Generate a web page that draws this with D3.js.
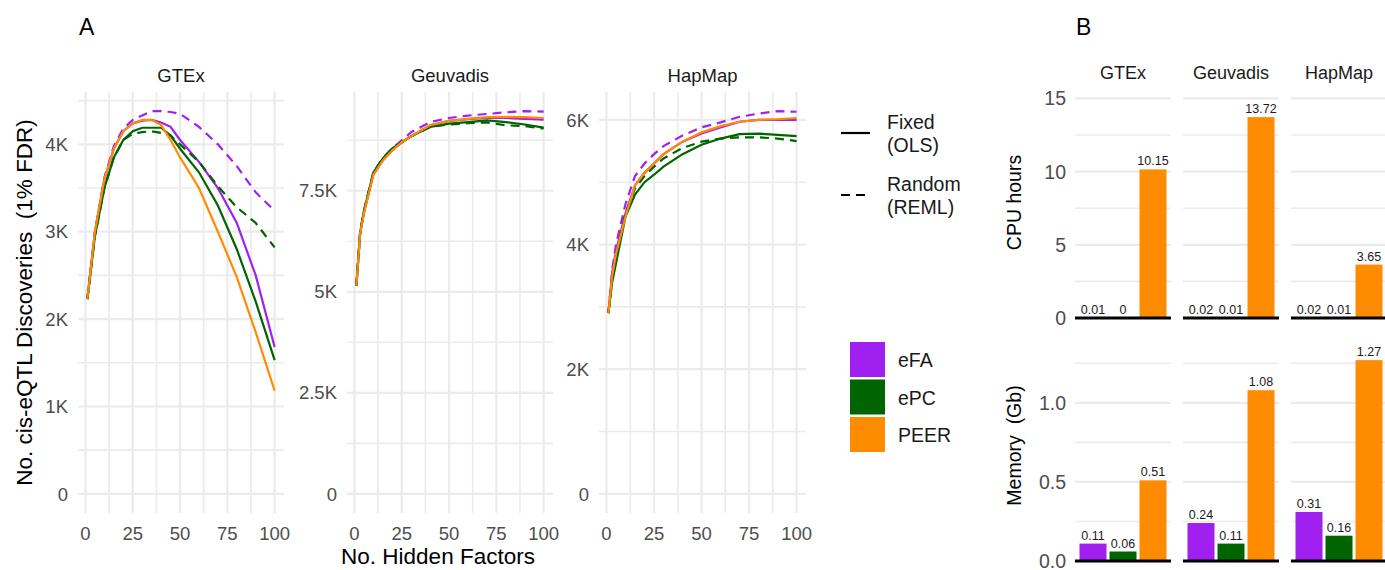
<!DOCTYPE html>
<html>
<head>
<meta charset="utf-8">
<script src="https://cdn.jsdelivr.net/npm/d3@7"></script>
<style>
  body { margin: 0; background: #fff; }
  svg { display: block; font-family: "Liberation Sans", Arial, sans-serif; }
</style>
</head>
<body>
<div id="chart"></div>
<script>
// Panel A data: cis-eQTL discoveries (thousands) vs number of hidden factors
const gtexFactors = [1, 5, 10, 15, 20, 25, 30, 35, 40, 45, 50, 60, 70, 80, 90, 100];
const gtexEfaFixed   = [2.23, 3.0, 3.6, 3.95, 4.15, 4.24, 4.27, 4.28, 4.25, 4.2, 4.05, 3.8, 3.5, 3.1, 2.5, 1.68];
const gtexEfaRandom  = [2.23, 3.0, 3.62, 3.98, 4.18, 4.28, 4.33, 4.38, 4.38, 4.37, 4.35, 4.2, 4.0, 3.75, 3.45, 3.24];
const gtexEpcFixed   = [2.23, 2.95, 3.5, 3.85, 4.05, 4.15, 4.19, 4.19, 4.19, 4.1, 3.95, 3.68, 3.3, 2.8, 2.2, 1.53];
const gtexEpcRandom  = [2.23, 2.95, 3.5, 3.85, 4.05, 4.12, 4.14, 4.15, 4.13, 4.1, 4.0, 3.8, 3.52, 3.28, 3.1, 2.82];
const gtexPeerFixed  = [2.23, 3.0, 3.6, 3.95, 4.15, 4.24, 4.28, 4.28, 4.22, 4.05, 3.85, 3.5, 3.0, 2.48, 1.85, 1.18];

const geuvFactors = [1, 3, 5, 10, 15, 20, 25, 30, 40, 50, 60, 70, 80, 90, 100];
const geuvEfaFixed   = [5.15, 6.45, 6.95, 7.9, 8.25, 8.5, 8.7, 8.85, 9.12, 9.23, 9.27, 9.3, 9.3, 9.28, 9.26];
const geuvEfaRandom  = [5.15, 6.5, 7.0, 7.95, 8.3, 8.55, 8.75, 8.95, 9.2, 9.3, 9.36, 9.4, 9.44, 9.47, 9.46];
const geuvEpcFixed   = [5.15, 6.45, 7.0, 7.95, 8.3, 8.55, 8.7, 8.85, 9.08, 9.16, 9.2, 9.24, 9.2, 9.14, 9.06];
const geuvEpcRandom  = [5.15, 6.45, 7.0, 7.95, 8.3, 8.55, 8.7, 8.85, 9.08, 9.14, 9.17, 9.19, 9.12, 9.1, 9.04];
const geuvPeerFixed  = [5.15, 6.45, 6.95, 7.9, 8.25, 8.5, 8.7, 8.85, 9.12, 9.23, 9.28, 9.32, 9.33, 9.32, 9.3];

const hapFactors = [1, 3, 5, 10, 15, 20, 25, 30, 40, 50, 60, 70, 80, 90, 100];
const hapEfaFixed    = [2.9, 3.55, 3.9, 4.5, 4.95, 5.15, 5.3, 5.45, 5.65, 5.78, 5.88, 5.97, 6.0, 6.0, 6.0];
const hapEfaRandom   = [2.9, 3.6, 4.0, 4.65, 5.1, 5.3, 5.45, 5.58, 5.75, 5.88, 5.96, 6.05, 6.1, 6.14, 6.13];
const hapEpcFixed    = [2.9, 3.4, 3.7, 4.45, 4.8, 5.0, 5.12, 5.25, 5.45, 5.6, 5.7, 5.77, 5.78, 5.76, 5.74];
const hapEpcRandom   = [2.9, 3.45, 3.8, 4.5, 4.9, 5.1, 5.25, 5.38, 5.55, 5.65, 5.7, 5.72, 5.72, 5.7, 5.66];
const hapPeerFixed   = [2.9, 3.5, 3.85, 4.45, 4.95, 5.15, 5.3, 5.45, 5.65, 5.8, 5.9, 5.97, 6.0, 6.01, 6.03];

const xTicks = [0, 25, 50, 75, 100];
const gtexYTicks = [0, 1, 2, 3, 4];
const geuvYTicks = [0, 2.5, 5, 7.5];
const hapYTicks = [0, 2, 4, 6];

// Panel B data
const methods = ["eFA", "ePC", "PEER"];
const datasets = ["GTEx", "Geuvadis", "HapMap"];
const cpuGtex = [0.01, 0, 10.15];
const cpuGeuvadis = [0.02, 0.01, 13.72];
const cpuHapmap = [0.02, 0.01, 3.65];
const memGtex = [0.11, 0.06, 0.51];
const memGeuvadis = [0.24, 0.11, 1.08];
const memHapmap = [0.31, 0.16, 1.27];
const cpuTicks = [0, 5, 10, 15];
const memTicks = [0, 0.5, 1.0];

const color = d3.scaleOrdinal().domain(methods).range(["#A020F0", "#006400", "#FF8C00"]);

const width = 1385, height = 570;
const svg = d3.create("svg").attr("width", width).attr("height", height);
const grid = "#ebebeb";

// ---------- Panel A ----------
const panelsA = [
  { name: "GTEx", x0: 78, x1: 284, factors: gtexFactors, ticks: gtexYTicks,
    series: [["eFA", "fixed", gtexEfaFixed], ["eFA", "random", gtexEfaRandom],
             ["ePC", "fixed", gtexEpcFixed], ["ePC", "random", gtexEpcRandom],
             ["PEER", "fixed", gtexPeerFixed]] },
  { name: "Geuvadis", x0: 347, x1: 553, factors: geuvFactors, ticks: geuvYTicks,
    series: [["eFA", "fixed", geuvEfaFixed], ["eFA", "random", geuvEfaRandom],
             ["ePC", "fixed", geuvEpcFixed], ["ePC", "random", geuvEpcRandom],
             ["PEER", "fixed", geuvPeerFixed]] },
  { name: "HapMap", x0: 599, x1: 806, factors: hapFactors, ticks: hapYTicks,
    series: [["eFA", "fixed", hapEfaFixed], ["eFA", "random", hapEfaRandom],
             ["ePC", "fixed", hapEpcFixed], ["ePC", "random", hapEpcRandom],
             ["PEER", "fixed", hapPeerFixed]] }
];
const aTop = 92, aBottom = 513;

panelsA.forEach(p => {
  const g = svg.append("g");
  const xr = d3.extent(p.factors);
  const xpad = (xr[1] - xr[0]) * 0.05;
  const x = d3.scaleLinear().domain([xr[0] - xpad, xr[1] + xpad]).range([p.x0, p.x1]);
  const ymax = d3.max(p.series, s => d3.max(s[2]));
  const y = d3.scaleLinear().domain([-ymax * 0.05, ymax * 1.05]).range([aBottom, aTop]);

  // grid: minor then major
  const step = p.ticks[1] - p.ticks[0];
  const yMinor = d3.range(step / 2, y.domain()[1], step);
  const xMinor = xTicks.slice(1).map(t => t - 12.5);
  g.selectAll(".ymin").data(yMinor).join("line")
    .attr("x1", p.x0).attr("x2", p.x1).attr("y1", d => y(d)).attr("y2", d => y(d))
    .attr("stroke", grid).attr("stroke-width", 1.6);
  g.selectAll(".xmin").data(xMinor).join("line")
    .attr("y1", aTop).attr("y2", aBottom).attr("x1", d => x(d)).attr("x2", d => x(d))
    .attr("stroke", grid).attr("stroke-width", 1.6);
  g.selectAll(".ymaj").data(p.ticks).join("line")
    .attr("x1", p.x0).attr("x2", p.x1).attr("y1", d => y(d)).attr("y2", d => y(d))
    .attr("stroke", grid).attr("stroke-width", 2.2);
  g.selectAll(".xmaj").data(xTicks).join("line")
    .attr("y1", aTop).attr("y2", aBottom).attr("x1", d => x(d)).attr("x2", d => x(d))
    .attr("stroke", grid).attr("stroke-width", 2.2);

  // tick labels
  g.selectAll(".ylab").data(p.ticks).join("text")
    .attr("x", p.x0 - 10).attr("y", d => y(d)).attr("dy", "0.36em")
    .attr("text-anchor", "end").attr("font-size", 18.5).attr("fill", "#4d4d4d")
    .text(d => d === 0 ? "0" : d + "K");
  g.selectAll(".xlab").data(xTicks).join("text")
    .attr("x", d => x(d)).attr("y", 533).attr("dy", "0.36em")
    .attr("text-anchor", "middle").attr("font-size", 18.5).attr("fill", "#4d4d4d")
    .text(d => d);

  // strip
  g.append("text").attr("x", (p.x0 + p.x1) / 2).attr("y", 75).attr("dy", "0.36em")
    .attr("text-anchor", "middle").attr("font-size", 18.5).attr("fill", "#1a1a1a")
    .text(p.name);

  const line = d3.line().x((d, i) => x(p.factors[i])).y(d => y(d));
  g.selectAll(".series").data(p.series).join("path")
    .attr("d", s => line(s[2]))
    .attr("fill", "none")
    .attr("stroke", s => color(s[0]))
    .attr("stroke-width", 2.2)
    .attr("stroke-dasharray", s => s[1] === "random" ? "9,6" : null);
});

svg.append("text").attr("x", 79).attr("y", 27).attr("dy", "0.36em")
  .attr("font-size", 23).text("A");
svg.append("text")
  .attr("transform", `translate(32,${(aTop + aBottom) / 2}) rotate(-90)`)
  .attr("text-anchor", "middle").attr("font-size", 22.5).attr("xml:space", "preserve")
  .text("No. cis-eQTL Discoveries  (1% FDR)");
svg.append("text").attr("x", 438).attr("y", 556).attr("dy", "0.36em")
  .attr("text-anchor", "middle").attr("font-size", 22.5)
  .text("No. Hidden Factors");

// ---------- Legends ----------
const lg = svg.append("g");
const linetypes = [["fixed", "Fixed", "(OLS)", 133], ["random", "Random", "(REML)", 195]];
linetypes.forEach(([k, a, b, cy]) => {
  lg.append("line").attr("x1", 841).attr("x2", 870).attr("y1", cy).attr("y2", cy)
    .attr("stroke", "#000").attr("stroke-width", 2.2)
    .attr("stroke-dasharray", k === "random" ? "9,6" : null);
  lg.append("text").attr("x", 887).attr("y", cy - 11).attr("dy", "0.36em")
    .attr("font-size", 19.5).attr("fill", "#1a1a1a").text(a);
  lg.append("text").attr("x", 887).attr("y", cy + 12).attr("dy", "0.36em")
    .attr("font-size", 19.5).attr("fill", "#1a1a1a").text(b);
});
lg.selectAll(".key").data(methods).join("rect")
  .attr("x", 850).attr("y", (d, i) => 342 + i * 37.5)
  .attr("width", 35).attr("height", 35).attr("fill", d => color(d));
lg.selectAll(".keylab").data(methods).join("text")
  .attr("x", 898).attr("y", (d, i) => 360 + i * 37.5).attr("dy", "0.36em")
  .attr("font-size", 19.5).attr("fill", "#1a1a1a").text(d => d);

// ---------- Panel B ----------
svg.append("text").attr("x", 1076).attr("y", 27).attr("dy", "0.36em")
  .attr("font-size", 23).text("B");

const bX0 = [1075, 1183, 1291];
const bW = 96;
const rowsB = [
  { values: [cpuGtex, cpuGeuvadis, cpuHapmap], ticks: cpuTicks, top: 87, bottom: 318,
    title: "CPU hours", fmt: d => d, minorStep: 2.5 },
  { values: [memGtex, memGeuvadis, memHapmap], ticks: memTicks, top: 330, bottom: 561,
    title: "Memory  (Gb)", fmt: d => d.toFixed(1), minorStep: 0.25 }
];

rowsB.forEach((row, r) => {
  const ymax = d3.max(row.values, v => d3.max(v)) * 1.15;
  const y = d3.scaleLinear().domain([0, ymax]).range([row.bottom, row.top]);
  const gridVals = d3.range(0, ymax, row.minorStep);

  row.values.forEach((vals, k) => {
    const g = svg.append("g");
    const x0 = bX0[k];
    const unit = bW / 3.2;
    // ggplot-like discrete positions: 0.6 units of padding each side
    const xc = d3.scaleLinear().domain([-0.6, 2.6]).range([x0, x0 + bW]);

    g.selectAll(".grid").data(gridVals).join("line")
      .attr("x1", x0).attr("x2", x0 + bW).attr("y1", d => y(d)).attr("y2", d => y(d))
      .attr("stroke", grid).attr("stroke-width", d => row.ticks.some(t => Math.abs(t - d) < 1e-9) ? 2.2 : 1.6);

    g.selectAll(".bar").data(vals).join("rect")
      .attr("x", (d, i) => xc(i) - unit * 0.45).attr("width", unit * 0.9)
      .attr("y", d => y(d)).attr("height", d => y(0) - y(d))
      .attr("fill", (d, i) => color(methods[i]));

    g.selectAll(".val").data(vals).join("text")
      .attr("x", (d, i) => xc(i)).attr("y", d => y(d) - 4)
      .attr("text-anchor", "middle").attr("font-size", 12.5).attr("fill", "#1a1a1a")
      .text(d => d);

    g.append("line").attr("x1", x0).attr("x2", x0 + bW).attr("y1", y(0)).attr("y2", y(0))
      .attr("stroke", "#000").attr("stroke-width", 3);

    if (r === 0) {
      g.append("text").attr("x", x0 + bW / 2).attr("y", 73).attr("dy", "0.36em")
        .attr("text-anchor", "middle").attr("font-size", 18).attr("fill", "#1a1a1a")
        .text(datasets[k]);
    }
  });

  svg.selectAll(null).data(row.ticks).join("text")
    .attr("x", 1066).attr("y", d => y(d)).attr("dy", "0.36em")
    .attr("text-anchor", "end").attr("font-size", 19.5).attr("fill", "#4d4d4d")
    .text(row.fmt);

  svg.append("text")
    .attr("transform", `translate(1021,${(row.top + row.bottom) / 2}) rotate(-90)`)
    .attr("text-anchor", "middle").attr("font-size", 19.5).attr("xml:space", "preserve")
    .text(row.title);
});

document.getElementById("chart").appendChild(svg.node());
</script>
</body>
</html>
